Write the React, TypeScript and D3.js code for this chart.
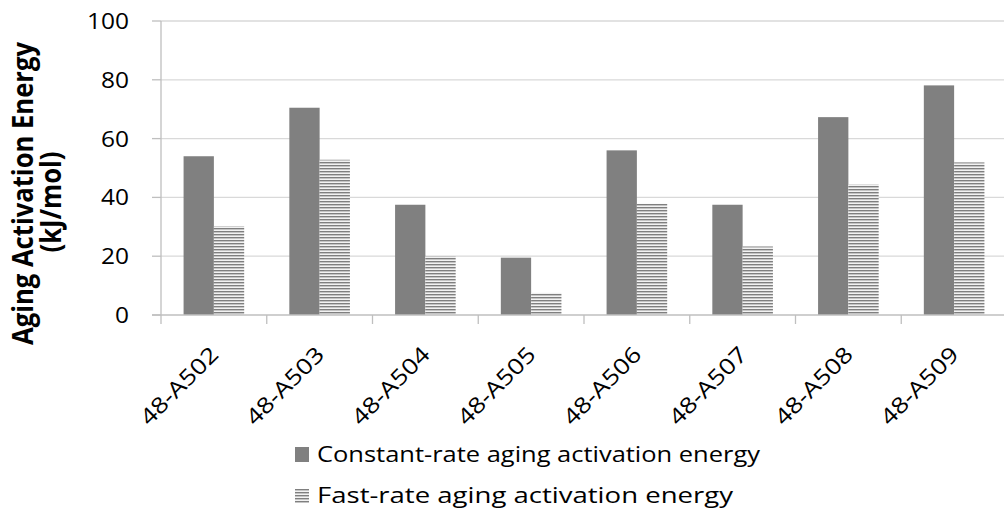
import React from "react";
import * as d3 from "d3";

const categories = ["48-A502", "48-A503", "48-A504", "48-A505", "48-A506", "48-A507", "48-A508", "48-A509"];
const constantRate = [54.0, 70.5, 37.5, 19.5, 56.0, 37.5, 67.3, 78.1];
const fastRate = [30.2, 52.8, 20.0, 7.5, 37.8, 23.3, 44.4, 51.9];
const seriesNames = ["Constant-rate aging activation energy", "Fast-rate aging activation energy"];
const yTicks = [0, 20, 40, 60, 80, 100];

const W = 1004;
const H = 527;
const FONT = "'Open Sans', sans-serif";

export default function App() {
  const left = 161;
  const right = 1007;
  const top = 21;
  const bottom = 315;

  const y = d3.scaleLinear().domain([0, 100]).range([bottom, top]);
  const x0 = d3.scaleBand<string>().domain(categories).range([left, right]).paddingInner(0).paddingOuter(0);
  const x1 = d3.scaleBand<string>().domain(["c", "f"]).range([0, x0.bandwidth()]).paddingInner(0).paddingOuter(0.745);

  return (
    <svg width={W} height={H} style={{ position: "absolute", left: 0, top: 0, background: "#fff" }}>
      <defs>
        <pattern id="stripes" patternUnits="userSpaceOnUse" width={4} height={3}>
          <rect x={0} y={0} width={4} height={1} fill="#7f7f7f" />
          <rect x={0} y={1} width={4} height={1} fill="#c4c4c4" />
          <rect x={0} y={2} width={4} height={1} fill="#f2f2f2" />
        </pattern>
      </defs>
      {/* gridlines */}
      {yTicks.filter((t) => t > 0).map((t) => (
        <line key={t} x1={left} x2={W} y1={y(t)} y2={y(t)} stroke="#d9d9d9" strokeWidth={1.3} />
      ))}
      {/* y ticks */}
      {yTicks.map((t) => {
        const s = String(t);
        return (
          <g key={"yt" + t}>
            <line x1={152} x2={left} y1={y(t)} y2={y(t)} stroke="#bfbfbf" strokeWidth={1.3} />
            <text x={129} y={y(t)} dy="0.36em" textAnchor="end" fontFamily={FONT} fontSize={22}
              textLength={s.length * 14} lengthAdjust="spacingAndGlyphs" fill="#000">
              {s}
            </text>
          </g>
        );
      })}
      {/* bars */}
      {categories.map((c, i) => (
        <g key={c}>
          <rect x={x0(c)! + x1("c")!} y={y(constantRate[i])} width={x1.bandwidth()} height={y(0) - y(constantRate[i])} fill="#808080" />
          <rect x={x0(c)! + x1("f")!} y={y(fastRate[i])} width={x1.bandwidth()} height={y(0) - y(fastRate[i])} fill="url(#stripes)" />
        </g>
      ))}
      {/* axes */}
      <line x1={left} x2={left} y1={top} y2={bottom} stroke="#bfbfbf" strokeWidth={1.3} />
      <line x1={152} x2={W} y1={bottom} y2={bottom} stroke="#bfbfbf" strokeWidth={1.3} />
      {categories.map((c) => (
        <line key={"xt" + c} x1={x0(c)!} x2={x0(c)!} y1={bottom} y2={bottom + 9} stroke="#bfbfbf" strokeWidth={1.3} />
      ))}
      {/* x labels */}
      {categories.map((c) => {
        const cx = x0(c)! + x0.bandwidth() / 2 + 6;
        const cy = 356;
        return (
          <text key={"xl" + c} x={cx} y={cy} transform={`rotate(-45 ${cx} ${cy})`} textAnchor="end" fontFamily={FONT} fontSize={22}
            textLength={100} lengthAdjust="spacingAndGlyphs" fill="#000">
            {c}
          </text>
        );
      })}
      {/* y title */}
      <text transform="translate(33,193.5) scale(1.3,1) rotate(-90)" textAnchor="middle" fontFamily={FONT} fontSize={22} fontWeight="bold"
        textLength={303} lengthAdjust="spacingAndGlyphs" fill="#000">
        Aging Activation Energy
      </text>
      <text transform="translate(61,202) scale(1.3,1) rotate(-90)" textAnchor="middle" fontFamily={FONT} fontSize={22} fontWeight="bold"
        textLength={101} lengthAdjust="spacingAndGlyphs" fill="#000">
        (kJ/mol)
      </text>
      {/* legend */}
      <rect x={295} y={447} width={14} height={15} fill="#808080" />
      <text x={317} y={462} fontFamily={FONT} fontSize={22} textLength={443} lengthAdjust="spacingAndGlyphs" fill="#000">{seriesNames[0]}</text>
      <rect x={295} y={489} width={14} height={14} fill="url(#stripes)" />
      <text x={317} y={503} fontFamily={FONT} fontSize={22} textLength={416} lengthAdjust="spacingAndGlyphs" fill="#000">{seriesNames[1]}</text>
    </svg>
  );
}
